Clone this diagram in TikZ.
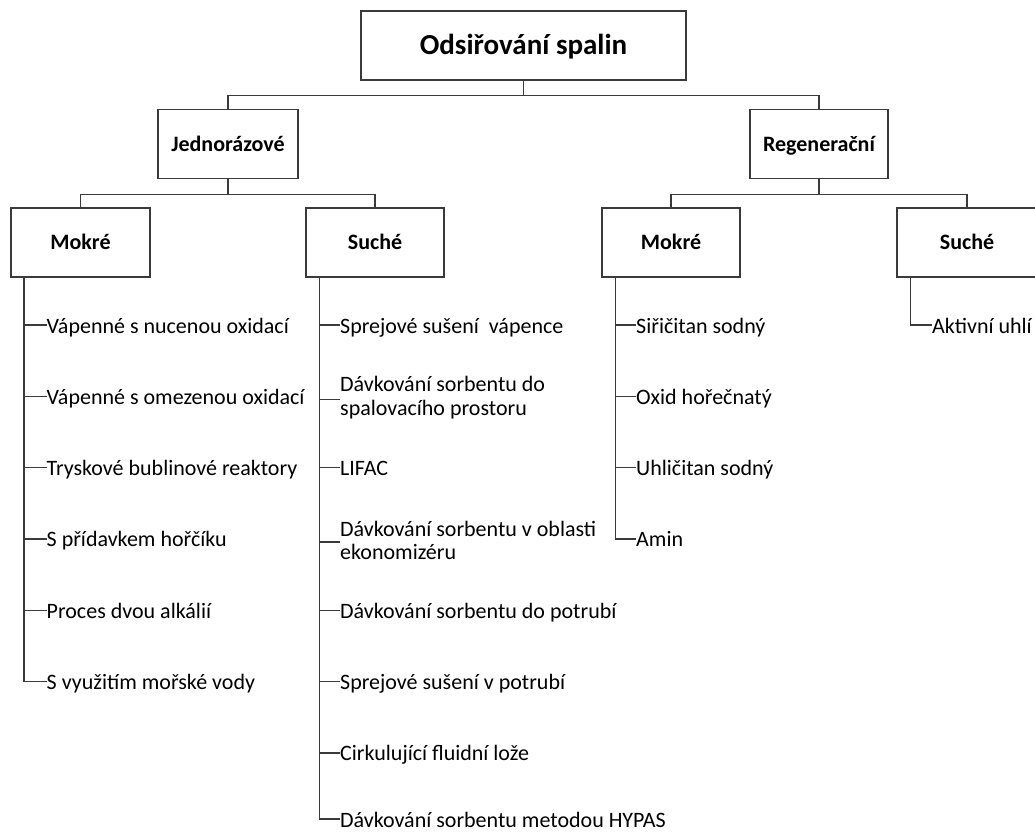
\documentclass[tikz,border=0pt]{standalone}
\usepackage{fontspec}
\setmainfont{Carlito}
\definecolor{linec}{HTML}{3A3A3A}
\tikzset{
  conn/.style={draw=linec, line width=1.4pt},
  catbox/.style={draw=linec, line width=1.4pt, minimum width=139pt, minimum height=69pt,
    inner sep=0pt, text height=14pt, text depth=0pt, font=\bfseries\fontsize{22}{26}\selectfont},
  item/.style={anchor=west, inner sep=0pt, text height=16pt, text depth=0pt, font=\fontsize{22}{23.5}\selectfont},
  item2/.style={anchor=west, inner sep=0pt, align=left, font=\fontsize{22}{23.5}\selectfont}
}
\begin{document}
\begin{tikzpicture}[x=1pt,y=-1pt]
\useasboundingbox (0,0) rectangle (1035,832);
\clip (0,0) rectangle (1035,832);

% boxes
\node[catbox, minimum width=325pt, text height=19pt, font=\bfseries\fontsize{29}{32}\selectfont] (root) at (523.5,45.5) {Odsiřování spalin};
\node[catbox, minimum width=140pt] (jed) at (228,144) {Jednorázové};
\node[catbox, minimum width=138pt] (reg) at (819,144) {Regenerační};
\node[catbox] (m1) at (80.5,242.5) {Mokré};
\node[catbox, minimum width=138pt] (s1) at (375,242.5) {Suché};
\node[catbox, minimum width=138pt] (m2) at (671,242.5) {Mokré};
\node[catbox, minimum width=140pt] (s2) at (967,242.5) {Suché};

% tree connectors
\draw[conn] (root.south) -- ++(0,15) coordinate (b0) -| (jed.north);
\draw[conn] (b0) -| (reg.north);
\draw[conn] (jed.south) -- ++(0,15) coordinate (b1) -| (m1.north);
\draw[conn] (b1) -| (s1.north);
\draw[conn] (reg.south) -- ++(0,15) coordinate (b2) -| (m2.north);
\draw[conn] (b2) -| (s2.north);

% item columns
\coordinate (vm1) at ([xshift=13.5pt]m1.south west);
\coordinate (vs1) at ([xshift=14pt]s1.south west);
\coordinate (vm2) at ([xshift=14pt]m2.south west);
\coordinate (vs2) at ([xshift=14pt]s2.south west);

% Jednorázové - Mokré
\node[item] (a1) at (46.5,325) {Vápenné s nucenou oxidací};
\node[item] (a2) at (46.5,396.3) {Vápenné s omezenou oxidací};
\node[item] (a3) at (46.5,467.6) {Tryskové bublinové reaktory};
\node[item] (a4) at (46.5,538.9) {S přídavkem hořčíku};
\node[item] (a5) at (46.5,610.2) {Proces dvou alkálií};
\node[item] (a6) at (46.5,681.5) {S využitím mořské vody};
\foreach \n in {a1,a2,a3,a4,a5,a6} \draw[conn] (vm1) |- (\n.west);

% Jednorázové - Suché
\node[item] (c1) at (340,325) {Sprejové sušení\ \ vápence};
\node[item2] (c2) at (340,397.8) {Dávkování sorbentu do\\spalovacího prostoru};
\node[item] (c3) at (340,467.6) {LIFAC};
\node[item2] (c4) at (340,540.4) {Dávkování sorbentu v oblasti\\ekonomizéru};
\node[item] (c5) at (340,610.2) {Dávkování sorbentu do potrubí};
\node[item] (c6) at (340,681.5) {Sprejové sušení v potrubí};
\node[item] (c7) at (340,752.8) {Cirkulující fluidní lože};
\node[item] (c8) at (340,819) {Dávkování sorbentu metodou HYPAS};
\foreach \n in {c1,c3,c5,c6,c7,c8} \draw[conn] (vs1) |- (\n.west);
\draw[conn] (vs1) |- ([yshift=-1.5pt]c2.west);
\draw[conn] (vs1) |- ([yshift=-1.5pt]c4.west);

% Regenerační - Mokré
\node[item] (d1) at (636,325) {Siřičitan sodný};
\node[item] (d2) at (636,396.3) {Oxid hořečnatý};
\node[item] (d3) at (636,467.6) {Uhličitan sodný};
\node[item] (d4) at (636,538.9) {Amin};
\foreach \n in {d1,d2,d3,d4} \draw[conn] (vm2) |- (\n.west);

% Regenerační - Suché
\node[item] (e1) at (932,325) {Aktivní uhlí};
\draw[conn] (vs2) |- (e1.west);
\end{tikzpicture}
\end{document}
